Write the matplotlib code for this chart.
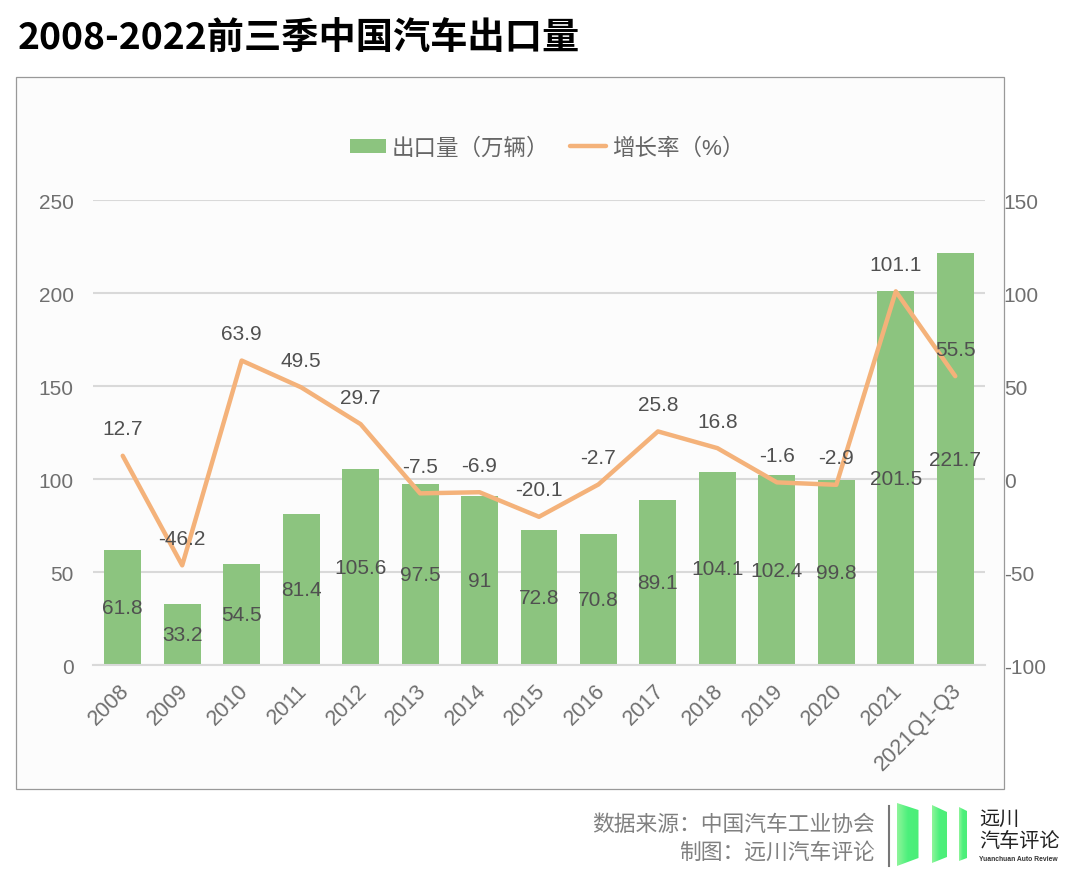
import numpy as np
import matplotlib
matplotlib.use('Agg')
import matplotlib.pyplot as plt
from matplotlib.patches import Polygon, Rectangle
from matplotlib.transforms import ScaledTranslation

plt.rcParams['font.family'] = ['Liberation Sans', 'Noto Sans CJK SC']
plt.rcParams['axes.unicode_minus'] = False

# data
years = ['2008', '2009', '2010', '2011', '2012', '2013', '2014', '2015',
         '2016', '2017', '2018', '2019', '2020', '2021', '2021Q1-Q3']
exports = [61.8, 33.2, 54.5, 81.4, 105.6, 97.5, 91, 72.8,
           70.8, 89.1, 104.1, 102.4, 99.8, 201.5, 221.7]
growth = [12.7, -46.2, 63.9, 49.5, 29.7, -7.5, -6.9, -20.1,
          -2.7, 25.8, 16.8, -1.6, -2.9, 101.1, 55.5]
left_ticks = [0, 50, 100, 150, 200, 250]
right_ticks = [-100, -50, 0, 50, 100, 150]
bar_name = '出口量\uff08万辆\uff09'
line_name = '增长率\uff08%\uff09'

W, H = 1080, 879
BG = '#fcfcfc'
GREEN = '#8cc47f'
ORANGE = '#f4b27a'
TICK = '#6f6f6f'
LABEL = '#505050'

fig = plt.figure(figsize=(W / 100, H / 100), dpi=100, facecolor='white')

# overlay in pixel coords for frame, title, footer, logo
bg = fig.add_axes([0, 0, 1, 1], zorder=0)
bg.set_xlim(0, W)
bg.set_ylim(H, 0)
bg.axis('off')
bg.add_patch(Rectangle((15.5, 77.5), 988, 712, facecolor=BG, edgecolor='#999999', lw=0.9))
bg.text(18, 38, '2008-2022前三季中国汽车出口量', fontsize=26.8, fontweight='bold',
        family=['Noto Sans CJK SC'], color='black', va='center', ha='left')
bg.text(875, 825, '数据来源\uff1a中国汽车工业协会', fontsize=15.7, color='#808080', va='center', ha='right',
        family=['Noto Sans CJK SC'])
bg.text(875, 853, '制图\uff1a远川汽车评论', fontsize=15.7, color='#808080', va='center', ha='right',
        family=['Noto Sans CJK SC'])

# logo
bg.plot([889, 889], [807, 867], color='#777777', lw=1.5)
grad = np.linspace(0, 1, 64).reshape(1, -1)
cmap = matplotlib.colors.LinearSegmentedColormap.from_list('logo', ['#8ff59a', '#4cf07c', '#4cee78'])
for pts in ([(897, 804), (918.5, 811), (918.5, 859), (897, 867)],
            [(932, 806), (947, 813), (947, 858), (932, 864)],
            [(959, 808), (967, 812), (967, 859), (959, 862)]):
    poly = Polygon(pts, closed=True, facecolor='none', edgecolor='none')
    bg.add_patch(poly)
    xs = [p[0] for p in pts]
    ys = [p[1] for p in pts]
    im = bg.imshow(grad, extent=(min(xs), max(xs), max(ys), min(ys)), cmap=cmap, aspect='auto')
    im.set_clip_path(poly)
bg.set_xlim(0, W)
bg.set_ylim(H, 0)
bg.text(979, 819, '远川', fontsize=14.5, color='#222222', va='center', ha='left',
        family=['Noto Sans CJK SC'])
bg.text(979, 842, '汽车评论', fontsize=14.5, color='#222222', va='center', ha='left',
        family=['Noto Sans CJK SC'])
bg.text(979, 859.5, 'Yuanchuan Auto Review', fontsize=4.9, fontweight='bold', color='#333333',
        va='center', ha='left')

# main chart
ax = fig.add_axes([93 / W, 1 - 666.4 / H, (985 - 93) / W, (666 - 201) / H], zorder=1)
ax.patch.set_alpha(0)
x = np.arange(len(years))
bars = ax.bar(x, exports, width=0.62, color=GREEN, label=bar_name, zorder=2)
ax.set_xlim(-0.5, len(years) - 0.5)
ax.set_ylim(0, 250)
ax.set_yticks(left_ticks)
ax.set_xticks(x)
ax.set_xticklabels(years, rotation=45, ha='right', va='top', rotation_mode='anchor')
ax.tick_params(axis='both', length=0, labelsize=15, labelcolor=TICK)
ax.tick_params(axis='y', pad=14)
ax.tick_params(axis='x', labelsize=15.6, pad=10)
# shift the rotated labels left a bit
shift = ScaledTranslation(-3 / 72, 0, fig.dpi_scale_trans)
for lab in ax.get_xticklabels():
    lab.set_transform(lab.get_transform() + shift)
ax.grid(axis='y', color='#d9d9d9', lw=1.5, zorder=0)
ax.set_axisbelow(True)
for s in ['top', 'left', 'right']:
    ax.spines[s].set_visible(False)
ax.spines['bottom'].set_color('#d9d9d9')
ax.spines['bottom'].set_linewidth(1.5)

for xi, v in zip(x, exports):
    ax.text(xi, v / 2, str(v), ha='center', va='center', fontsize=15, color=LABEL, zorder=5)

ax2 = ax.twinx()
ax2.patch.set_alpha(0)
line, = ax2.plot(x, growth, color=ORANGE, lw=3.2, solid_joinstyle='round', solid_capstyle='round',
                 label=line_name, zorder=3)
ax2.set_ylim(-100, 150)
ax2.set_yticks(right_ticks)
ax2.tick_params(axis='y', length=0, labelsize=15, labelcolor=TICK, pad=13.5)
for s in ax2.spines.values():
    s.set_visible(False)

for xi, v in zip(x, growth):
    ax2.annotate(str(v), (xi, v), xytext=(0, 19.5), textcoords='offset points',
                 ha='center', va='center', fontsize=15, color=LABEL, zorder=6)

leg = ax2.legend([bars, line], [bar_name, line_name], loc='center',
                 bbox_to_anchor=(547 / W, 1 - 149 / H), bbox_transform=fig.transFigure,
                 ncol=2, frameon=False, fontsize=16.2, labelcolor='#666666',
                 handlelength=1.6, handleheight=0.55, handletextpad=0.25, columnspacing=0.95)

fig.savefig('out.png', dpi=100, facecolor='white')
